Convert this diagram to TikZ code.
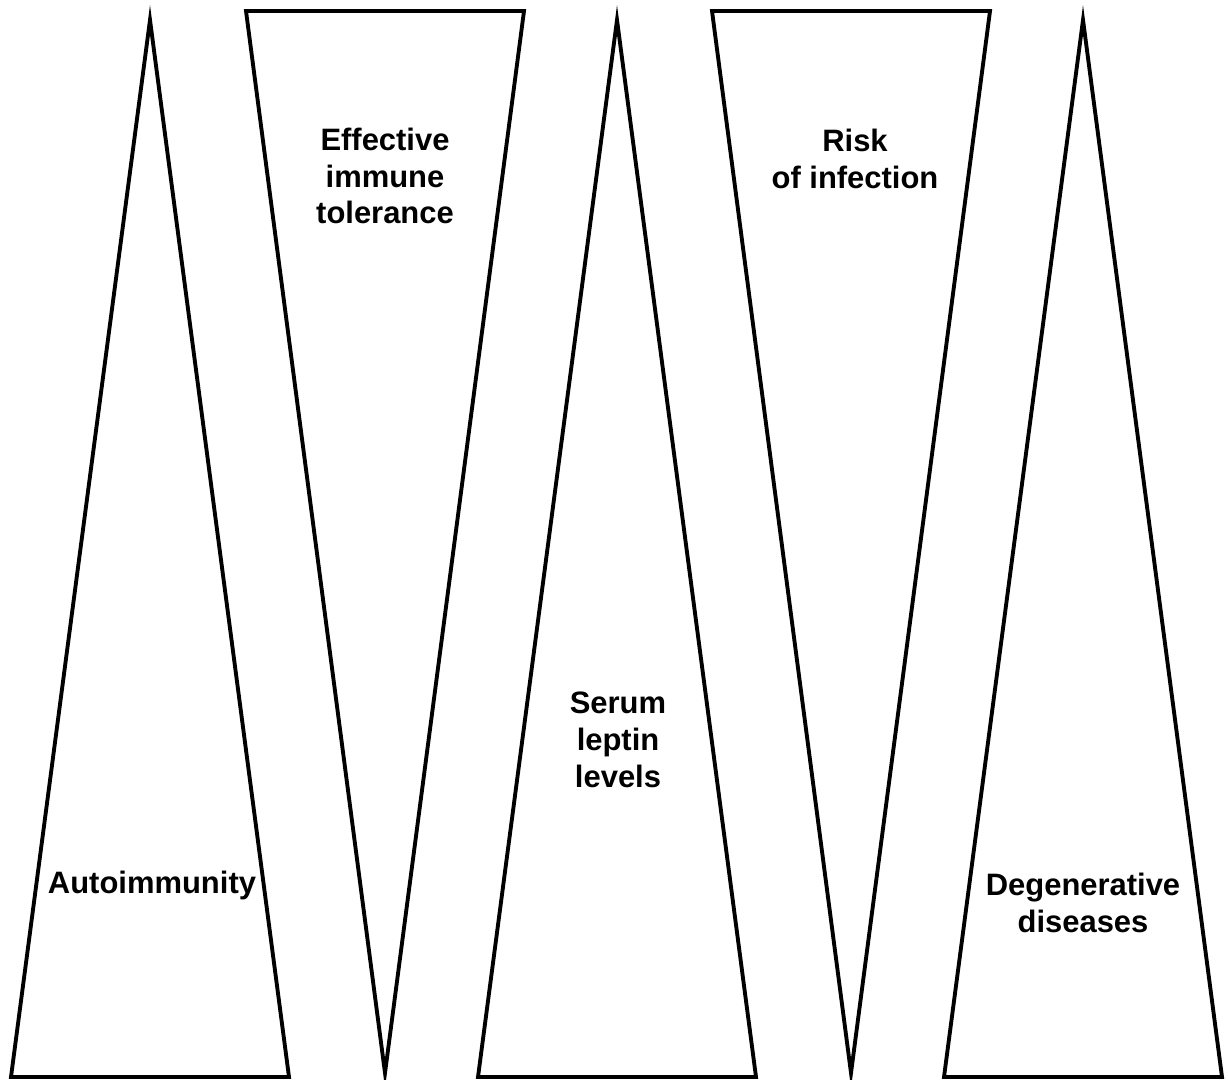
\documentclass[tikz,border=0pt]{standalone}
\usepackage{fontspec}
\setmainfont{Liberation Sans}

\begin{document}
\begin{tikzpicture}[x=0.01cm,y=-0.01cm,
  wedge/.style={draw=black,line width=1.1pt,fill=white},
  label/.style={align=center,font=\bfseries\fontsize{8.8}{10.5}\selectfont,inner sep=0pt}]

\useasboundingbox (0,0) rectangle (1228,1080);

% Rising wedges
\foreach \x in {150,617,1083}
  \draw[wedge] (\x,20) -- (\x+139,1077) -- (\x-139,1077) -- cycle;

% Falling wedges
\foreach \x in {385,851}
  \draw[wedge] (\x-139,11) -- (\x+139,11) -- (\x,1073) -- cycle;

% Labels
\node[label] (autoimm) at (152,885) {Autoimmunity};
\node[label] (toler) at (385,176) {Effective\\immune\\tolerance};
\node[label] (leptin) at (618,740) {Serum\\leptin\\levels};
\node[label] (infect) at (855,159) {Risk\\of infection};
\node[label] (degen) at (1083,903) {Degenerative\\diseases};
\end{tikzpicture}
\end{document}
